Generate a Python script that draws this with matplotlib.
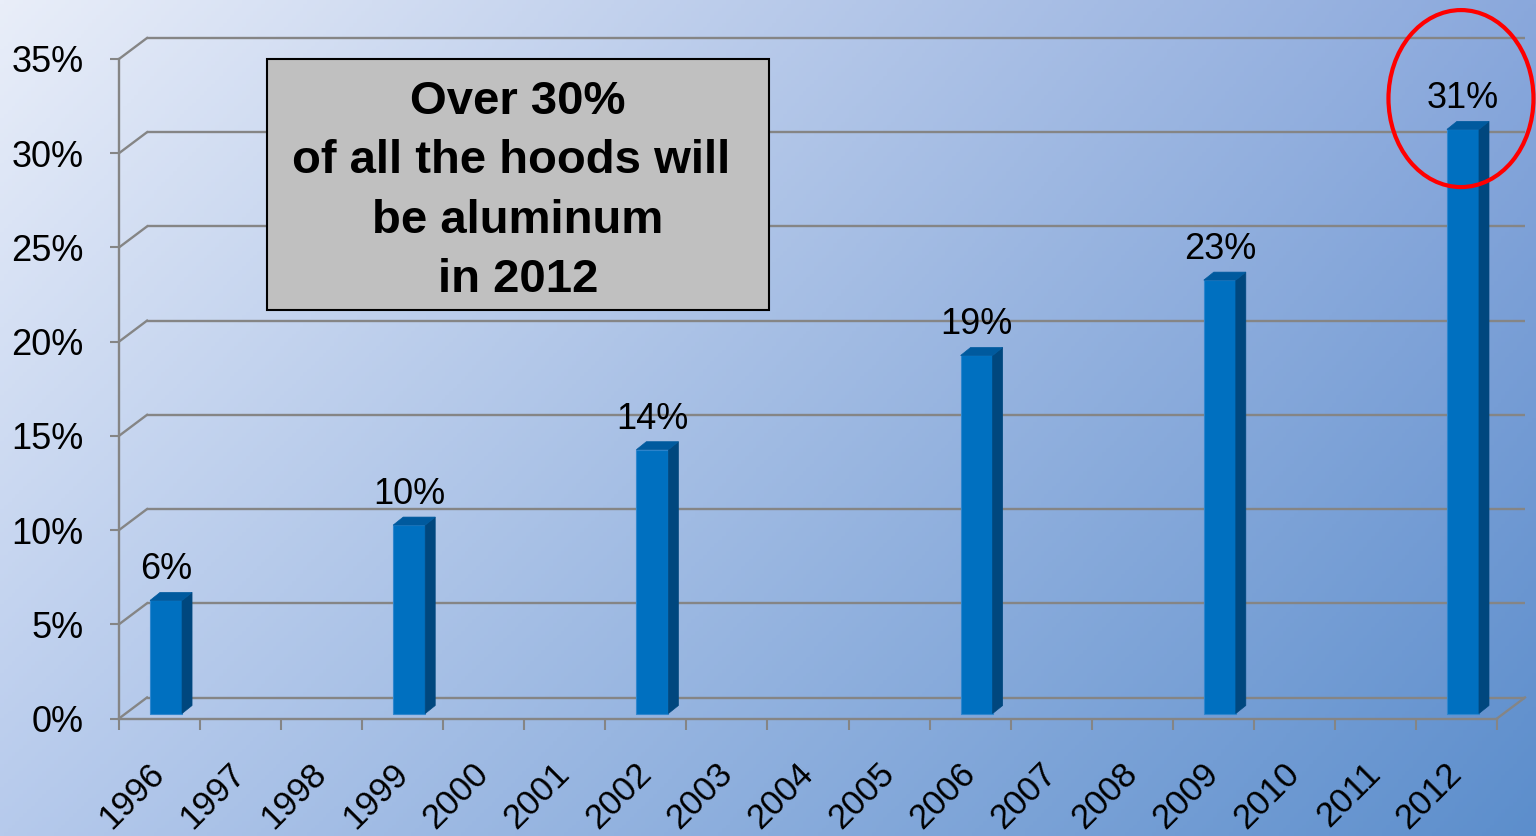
import matplotlib.pyplot as plt
import numpy as np
from matplotlib.patches import Polygon, Ellipse, Rectangle

plt.rcParams['font.family'] = ['Liberation Sans', 'DejaVu Sans']

# data
years = [str(y) for y in range(1996, 2013)]
bar_years = ['1996', '1999', '2002', '2006', '2009', '2012']
share = [6, 10, 14, 19, 23, 31]
yticks = [0, 5, 10, 15, 20, 25, 30, 35]
ytick_labels = [f'{t}%' for t in yticks]
note_lines = ['Over 30%', 'of all the hoods will ', 'be aluminum', 'in 2012']

grid_col = '#858585'
face_col = '#0070C0'
side_col = '#00477E'
top_col = '#005A9E'

fig = plt.figure(figsize=(15.36, 8.36), dpi=100)

# diagonal background wash
bg = fig.add_axes([0, 0, 1, 1])
bg.axis('off')
gx, gy = np.meshgrid(np.linspace(0, 1, 400), np.linspace(0, 1, 220))
tl = np.array([233, 238, 249]) / 255
tr = np.array([138, 168, 220]) / 255
bl = np.array([182, 202, 236]) / 255
br = np.array([92, 142, 204]) / 255
img = (tl * ((1 - gx) * (1 - gy))[..., None] + tr * (gx * (1 - gy))[..., None]
       + bl * ((1 - gx) * gy)[..., None] + br * (gx * gy)[..., None])
bg.imshow(img, aspect='auto', extent=[0, 1, 0, 1], origin='upper')
bg.set_xlim(0, 1)
bg.set_ylim(0, 1)

W, H = 1536, 836
ax = fig.add_axes([119 / W, 117.5 / H, 1378 / W, 659.5 / H])
ax.patch.set_alpha(0)
n = len(years)
ax.set_xlim(-0.5, n - 0.5)
ax.set_ylim(0, 35)

# pixel -> data units
xpp = n / 1378
ypp = 35 / 659.5

# back wall offset
bdx, bdy = 28 * xpp, 21 * ypp
for t in yticks:
    ax.plot([-0.5 + bdx, n - 0.5 + bdx], [t + bdy, t + bdy], color=grid_col,
            lw=1.7, clip_on=False, zorder=1, solid_capstyle='butt')
    ax.plot([-0.5, -0.5 + bdx], [t, t + bdy], color=grid_col, lw=1.7,
            clip_on=False, zorder=1)
ax.plot([n - 0.5, n - 0.5 + bdx], [0, bdy], color=grid_col, lw=1.7,
        clip_on=False, zorder=1)

# bars sit slightly behind the front edge
pdx, pdy = 6.5 * xpp, 5 * ypp
ddx, ddy = 10 * xpp, 8 * ypp
bw = 0.395
xs = np.array([years.index(y) for y in bar_years]) + pdx
ax.bar(xs, share, width=bw, bottom=pdy, color=face_col,
       edgecolor='#2F86CE', linewidth=0.8, zorder=3)
for x, v in zip(xs, share):
    xr = x + bw / 2
    xl = x - bw / 2
    top = v + pdy
    ax.add_patch(Polygon([(xr, pdy), (xr, top), (xr + ddx, top + ddy),
                          (xr + ddx, pdy + ddy)], closed=True,
                         fc=side_col, ec=side_col, lw=0.5, zorder=3))
    ax.add_patch(Polygon([(xl, top), (xr, top), (xr + ddx, top + ddy),
                          (xl + ddx, top + ddy)], closed=True,
                         fc=top_col, ec=top_col, lw=0.5, zorder=3))
    ax.text(x, top + 21 * ypp, f'{v}%', ha='center', va='baseline',
            fontsize=26, color='black', zorder=4)

# red highlight around the last value
ax.add_patch(Ellipse((xs[-1] - 2 * xpp, share[-1] + 1.9), 145 * xpp,
                     177 * ypp, fill=False, ec='#FF0000', lw=3,
                     clip_on=False, zorder=5))

# axes styling
for s in ['top', 'right']:
    ax.spines[s].set_visible(False)
for s in ['left', 'bottom']:
    ax.spines[s].set_color(grid_col)
    ax.spines[s].set_linewidth(1.7)
ax.set_yticks(yticks)
ax.set_yticklabels(ytick_labels)
ax.tick_params(axis='y', length=6.5, width=1.5, color=grid_col,
               labelsize=26, pad=19)
ax.set_xticks(range(n))
ax.set_xticklabels(years, rotation=45, ha='right', va='center',
                   rotation_mode='anchor')
ax.tick_params(axis='x', which='major', length=0, labelsize=25, pad=36)
ax.set_xticks(np.arange(-0.5, n), minor=True)
ax.tick_params(axis='x', which='minor', length=8, width=1.5, color=grid_col)

# callout box
fig.patches.append(Rectangle((267 / W, 1 - 310 / H), 502 / W, 251 / H,
                             transform=fig.transFigure, fc='#C0C0C0',
                             ec='black', lw=1.5, zorder=2))
fig.text(518 / W, 1 - 191 / H, '\n'.join(note_lines), ha='center',
         va='center', multialignment='center', fontsize=34,
         fontweight='bold', linespacing=1.45, zorder=3)

fig.savefig('out.png', dpi=100)
